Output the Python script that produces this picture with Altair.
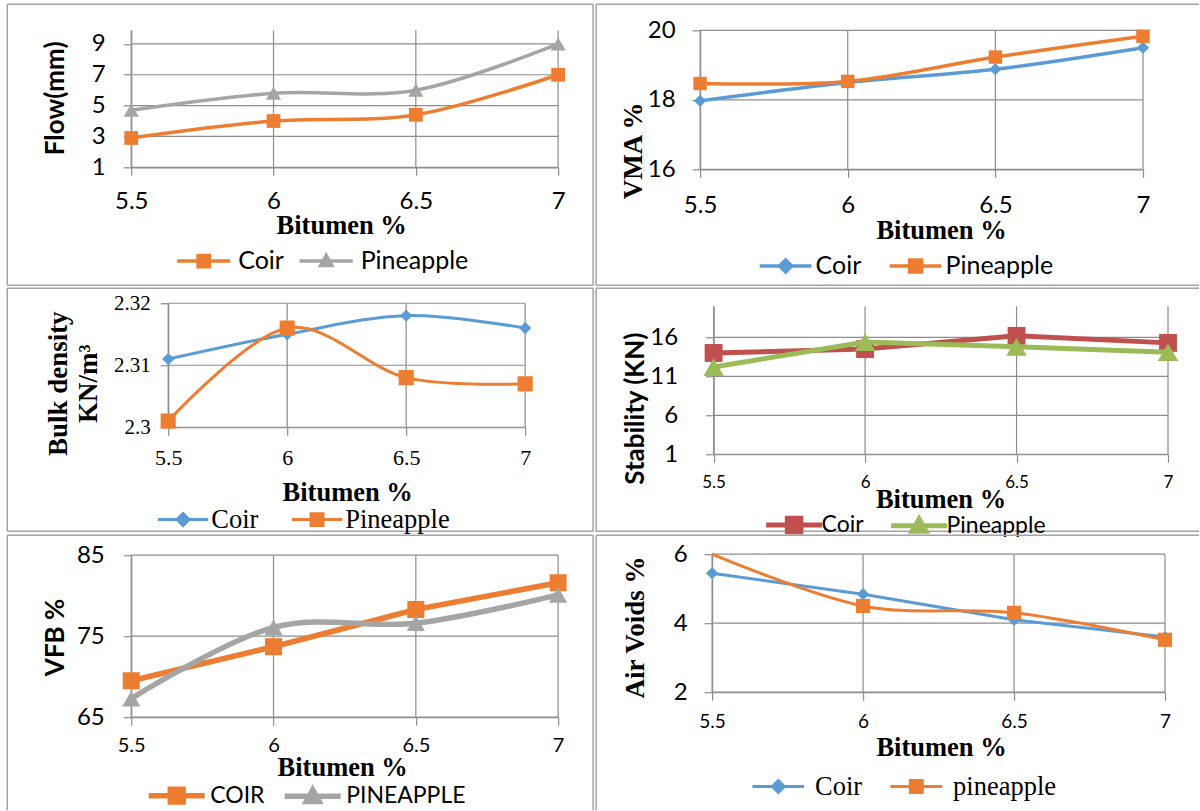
import altair as alt
import pandas as pd

# ---------------- data ----------------
bitumen = [5.5, 6.0, 6.5, 7.0]

flow_coir = [2.9, 4.0, 4.4, 7.0]
flow_pineapple = [4.7, 5.8, 6.0, 9.0]
flow_ticks = [1, 3, 5, 7, 9]

vma_coir = [17.97, 18.5, 18.88, 19.5]
vma_pineapple = [18.47, 18.53, 19.23, 19.83]
vma_ticks = [16, 18, 20]

density_coir = [2.311, 2.315, 2.318, 2.316]
density_pineapple = [2.301, 2.316, 2.308, 2.307]
density_ticks = [2.30, 2.31, 2.32]

stability_coir = [14.0, 14.5, 16.2, 15.3]
stability_pineapple = [12.2, 15.4, 14.8, 14.1]
stability_ticks = [1, 6, 11, 16]

vfb_coir = [69.5, 73.7, 78.3, 81.6]
vfb_pineapple = [67.3, 76.1, 76.6, 80.1]
vfb_ticks = [65, 75, 85]

voids_coir = [5.45, 4.84, 4.1, 3.6]
voids_pineapple = [6.05, 4.5, 4.3, 3.52]
voids_ticks = [2, 4, 6]

# ---------------- styling / layout ----------------
GRID = "#8C8C8C"
BORDER = "#A3A3A3"
ORANGE = "#ED7D31"
GRAY = "#A5A5A5"
BLUE = "#5B9BD5"
RED = "#C0504D"
GREEN = "#9BBB59"
SANS = "Lato"
SERIF = "Liberation Serif"

COL0, COL1 = 131, 700            # grid column origins (page px)
ROW0, ROW1, ROW2 = 30, 169, 454  # grid row origins (page px)


def legend_path(kind, L, m):
    line = f"M{-L},0H{L}"
    if kind == "square":
        mk = f"M{-m},{-m}H{m}V{m}H{-m}Z"
    elif kind == "diamond":
        mk = f"M0,{-m}L{m},0L0,{m}L{-m},0Z"
    else:
        mk = f"M0,{-m}L{m},{0.8 * m}L{-m},{0.8 * m}Z"
    return line + mk


def make_panel(p):
    s1, s2 = p["series"]
    names = [s1["name"], s2["name"]]
    df = pd.DataFrame({
        "x": bitumen + bitumen,
        "y": list(s1["values"]) + list(s2["values"]),
        "series": [names[0]] * 4 + [names[1]] * 4,
    })
    ymin, ymax = p["ydomain"]
    grid_df = pd.DataFrame(
        [{"x": v, "x2": v, "y": ymax, "y2": ymin} for v in bitumen]
        + [{"x": bitumen[0], "x2": bitumen[-1], "y": t, "y2": t} for t in p["yticks"]]
    )
    base = alt.Chart(df)
    cx, cy = p["cell"]
    x0, x1, y0, y1 = p["plot"]
    xoff, yoff = x0 - cx, y0 - cy
    w, h = x1 - cx, y1 - cy
    xscale = alt.Scale(domain=[bitumen[0], bitumen[-1]], range=[xoff, w], nice=False, zero=False)
    yscale = alt.Scale(domain=[ymin, ymax], range=[h, yoff], nice=False, zero=False, clamp=True)
    common = dict(grid=False, domainColor=GRID, domainWidth=1.2,
                  tickColor=GRID, tickWidth=1.2, tickSize=8, labelFlush=False, labelOverlap=False,
                  labelColor="black", titleColor="black", titleBaseline="alphabetic", titleAlign="center")
    xaxis = alt.Axis(values=bitumen, format="~g", labelFont=p["xlab"][0], labelFontSize=p["xlab"][1],
                     labelPadding=p["xlab"][2], title="Bitumen %", titleFont=SERIF, titleFontWeight="bold",
                     titleFontSize=26.5, titleX=p["xtitle"][0] - cx, titleY=p["xtitle"][1] - y1, **common)
    yaxis = alt.Axis(values=p["yticks"], format="~g", labelFont=p["ylab"][0], labelFontSize=p["ylab"][1],
                     labelPadding=p["ylab"][2], title=p["ytitle"], titleFont=p["ytitle_font"][0],
                     titleFontWeight="bold", titleFontSize=p["ytitle_font"][1], titleAngle=270,
                     titleX=p["ytitle_pos"][0] - x0, titleY=p["ytitle_pos"][1] - cy, titleLineHeight=30,
                     offset=-xoff, **common)
    enc = dict(x=alt.X("x:Q", scale=xscale, axis=xaxis), y=alt.Y("y:Q", scale=yscale, axis=yaxis))
    # grid lines limited to the plot rectangle
    layers = [alt.Chart(grid_df).mark_rule(color=GRID, strokeWidth=1.2).encode(
        x2="x2:Q", y2="y2:Q", **enc)]
    for s in (s1, s2):
        sub = base.transform_filter(alt.datum.series == s["name"])
        layers.append(sub.mark_line(color=s["color"], strokeWidth=p["lw"], interpolate=s["interp"])
                      .encode(**enc))
        layers.append(sub.transform_filter(alt.datum.y <= ymax + 1e-9)
                      .mark_point(shape=s["shape"], filled=True, color=s["color"], size=s["size"], opacity=1)
                      .encode(**enc))
    lg = p["legend"]
    leg = alt.Legend(orient="none", legendX=lg["x"] + xoff, legendY=lg["y"] + yoff, direction="horizontal",
                     title=None, labelFont=lg["font"], labelFontSize=lg["size"], labelColor="black",
                     symbolSize=lg["ssize"], symbolStrokeWidth=p["lw"], labelOffset=lg["loff"],
                     columnPadding=lg["cpad"], padding=0, symbolOpacity=1)
    paths = [legend_path(s1["lshape"], lg["L"], lg["m"]), legend_path(s2["lshape"], lg["L"], lg["m"])]
    colors = [s1["color"], s2["color"]]
    layers.append(base.transform_filter("false").mark_point(filled=True, opacity=1).encode(
        fill=alt.Fill("series:N", scale=alt.Scale(domain=names, range=colors), legend=leg),
        stroke=alt.Stroke("series:N", scale=alt.Scale(domain=names, range=colors), legend=leg),
        shape=alt.Shape("series:N", scale=alt.Scale(domain=names, range=paths), legend=leg),
    ))
    # panel frame (decoration), page px converted to cell px
    fl, ft, fr, fb = p["frame"]
    L, T, R, B = fl - cx, ft - cy, fr - cx, fb - cy
    one = alt.Chart(pd.DataFrame({"k": [0]}))
    rule = dict(color=BORDER, strokeWidth=1.5)
    if "top" in p["sides"]:
        layers.append(one.mark_rule(**rule).encode(x=alt.value(L), x2=alt.value(R), y=alt.value(T)))
    if "bottom" in p["sides"]:
        layers.append(one.mark_rule(**rule).encode(x=alt.value(L), x2=alt.value(R), y=alt.value(B)))
    if "left" in p["sides"]:
        layers.append(one.mark_rule(**rule).encode(y=alt.value(T), y2=alt.value(B), x=alt.value(L)))
    if "right" in p["sides"]:
        layers.append(one.mark_rule(**rule).encode(y=alt.value(T), y2=alt.value(B), x=alt.value(R)))
    return alt.layer(*layers).properties(width=w, height=h)


def ser(name, values, color, shape, lshape, size, interp):
    return dict(name=name, values=values, color=color, shape=shape, lshape=lshape, size=size, interp=interp)


panels = [
    dict(  # Flow
        cell=(COL0, ROW0), plot=(131, 558, 30, 167), ydomain=[1, 9.88], yticks=flow_ticks,
        series=[ser("Coir", flow_coir, ORANGE, "square", "square", 190, "cardinal"),
                ser("Pineapple", flow_pineapple, GRAY, "triangle-up", "triangle", 230, "cardinal")],
        lw=3.5, xlab=(SANS, 24, 14), ylab=(SANS, 24, 18), xtitle=(341, 233),
        ytitle="Flow(mm)", ytitle_font=(SANS, 26), ytitle_pos=(63, 97.5),
        legend=dict(x=60, y=218, font=SANS, size=25, ssize=196, L=3.8, m=0.8, loff=22, cpad=7.5),
        frame=(7, 4, 593, 285), sides=("top", "bottom", "left", "right")),
    dict(  # VMA
        cell=(COL1, ROW0), plot=(700, 1143, 30, 169), ydomain=[16, 20], yticks=vma_ticks,
        series=[ser("Coir", vma_coir, BLUE, "diamond", "diamond", 150, "cardinal"),
                ser("Pineapple", vma_pineapple, ORANGE, "square", "square", 180, "cardinal")],
        lw=3.5, xlab=(SANS, 24, 16), ylab=(SANS, 24, 17), xtitle=(941, 238),
        ytitle="VMA  %", ytitle_font=(SERIF, 27), ytitle_pos=(641, 150),
        legend=dict(x=73, y=223, font=SANS, size=25, ssize=196, L=3.7, m=0.85, loff=17.5, cpad=20),
        frame=(596, 4, 1199, 285), sides=("top", "bottom", "left")),
    dict(  # Bulk density
        cell=(COL0, ROW1), plot=(168, 525, 303, 427), ydomain=[2.30, 2.32], yticks=density_ticks,
        series=[ser("Coir", density_coir, BLUE, "diamond", "diamond", 150, "cardinal"),
                ser("Pineapple", density_pineapple, ORANGE, "square", "square", 230, "cardinal")],
        lw=3, xlab=(SERIF, 22, 12), ylab=(SERIF, 21, 10), xtitle=(347, 500),
        ytitle=["Bulk density", "KN/m³"], ytitle_font=(SERIF, 27), ytitle_pos=(66, 383),
        legend=dict(x=1.6, y=203, font=SERIF, size=26.5, ssize=196, L=3.6, m=0.85, loff=15, cpad=27),
        frame=(7, 288, 593, 531), sides=("top", "bottom", "left", "right")),
    dict(  # Stability
        cell=(COL1, ROW1), plot=(713.5, 1168, 306, 454), ydomain=[1, 20], yticks=stability_ticks,
        series=[ser("Coir", stability_coir, RED, "square", "square", 320, "linear"),
                ser("Pineapple", stability_pineapple, GREEN, "triangle-up", "triangle", 420, "linear")],
        lw=5, xlab=(SANS, 17, 12), ylab=(SANS, 24, 28), xtitle=(940.5, 507),
        ytitle="Stability (KN)", ytitle_font=(SANS, 26), ytitle_pos=(643.5, 408),
        legend=dict(x=69, y=207, font=SANS, size=23, ssize=324, L=3.1, m=0.75, loff=16, cpad=16),
        frame=(596, 288, 1199, 531), sides=("top", "bottom", "left")),
    dict(  # VFB
        cell=(COL0, ROW2), plot=(131, 558, 555, 717), ydomain=[65, 85], yticks=vfb_ticks,
        series=[ser("COIR", vfb_coir, ORANGE, "square", "square", 290, "linear"),
                ser("PINEAPPLE", vfb_pineapple, GRAY, "triangle-up", "triangle", 330, "cardinal")],
        lw=5.5, xlab=(SANS, 20, 10), ylab=(SANS, 24, 19), xtitle=(342, 775),
        ytitle="VFB %", ytitle_font=(SANS, 26), ytitle_pos=(63, 636.7),
        legend=dict(x=34, y=229, font=SANS, size=23, ssize=256, L=3.5, m=0.8, loff=22, cpad=8),
        frame=(7, 535, 593, 810), sides=("top", "left", "right")),
    dict(  # Air voids
        cell=(COL1, ROW2), plot=(712, 1165, 554, 692), ydomain=[2, 6], yticks=voids_ticks,
        series=[ser("Coir", voids_coir, BLUE, "diamond", "diamond", 150, "linear"),
                ser("pineapple", voids_pineapple, ORANGE, "square", "square", 200, "cardinal")],
        lw=3, xlab=(SANS, 19, 12), ylab=(SANS, 24, 17), xtitle=(941, 755),
        ytitle="Air Voids %", ytitle_font=(SERIF, 27), ytitle_pos=(643, 626.7),
        legend=dict(x=53, y=219, font=SERIF, size=26.5, ssize=196, L=3.7, m=0.85, loff=23.5, cpad=21),
        frame=(596, 535, 1199, 810), sides=("top", "left")),
]

charts = [make_panel(p) for p in panels]

chart = (
    alt.concat(*charts, columns=2, align="each", bounds="flush",
               spacing={"row": 0, "column": COL1 - COL0 - 427})
    .resolve_scale(x="independent", y="independent", fill="independent", stroke="independent",
                   shape="independent")
    .resolve_legend(fill="independent", stroke="independent", shape="independent")
    .properties(padding={"left": 6.25, "top": 3.25, "right": 0, "bottom": 0}, background="white")
    .configure_view(strokeWidth=0)
)

chart.save("out.html", embed_options={"renderer": "svg", "actions": False})
